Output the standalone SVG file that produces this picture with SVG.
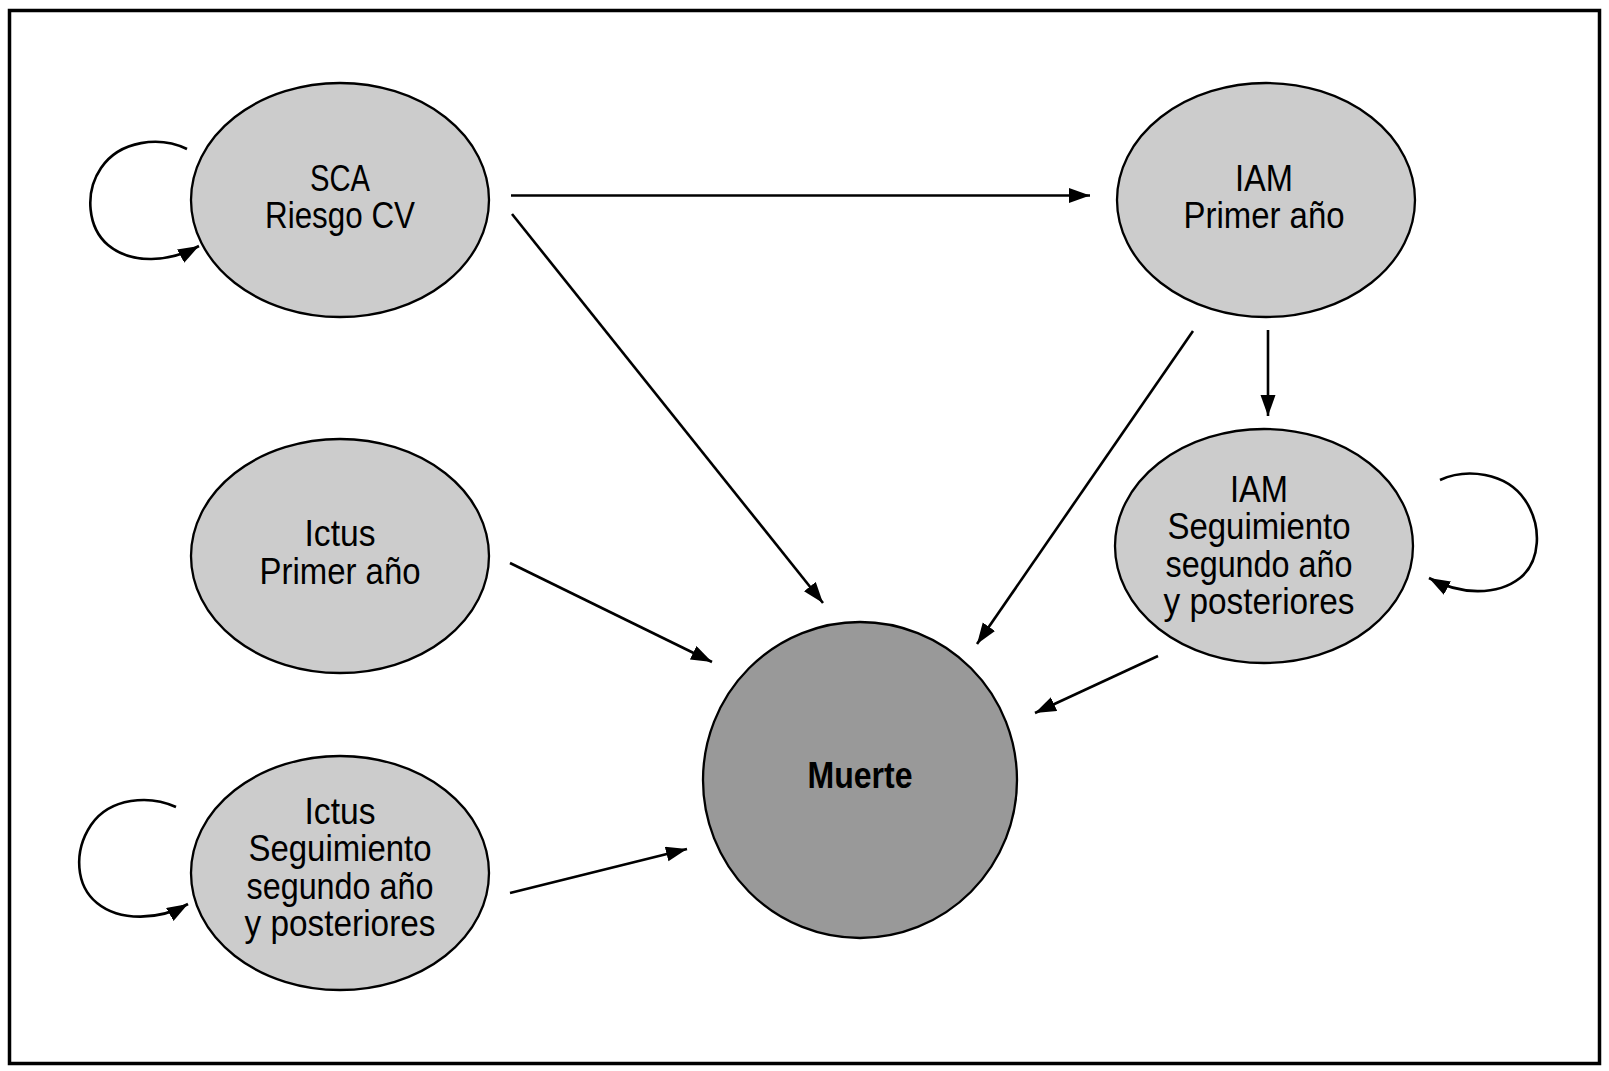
<svg xmlns="http://www.w3.org/2000/svg" width="1609" height="1071" viewBox="0 0 1609 1071">
<style>
.node{fill:#cccccc;stroke:#000;stroke-width:2.3}
.dead{fill:#999999;stroke:#000;stroke-width:2.3}
.lbl{font-family:"Liberation Sans",Arial,sans-serif;font-size:37px;text-anchor:middle;fill:#000}
.bold{font-weight:bold;font-size:36px}
.edge{fill:none;stroke:#000;stroke-width:2.6;marker-end:url(#arr)}
</style>
<defs>
<marker id="arr" markerUnits="userSpaceOnUse" markerWidth="23" markerHeight="16" refX="21" refY="7.5" orient="auto">
<path d="M0,0 L21,7.5 L0,15 z" fill="#000"/>
</marker>
</defs>
<rect x="9.5" y="10.5" width="1590" height="1053" fill="#fff" stroke="#000" stroke-width="3.5"/>
<g id="connectors">
<line class="edge" x1="511" y1="195.5" x2="1090" y2="195.5"/>
<line class="edge" x1="512" y1="214" x2="823" y2="603"/>
<line class="edge" x1="510" y1="563" x2="712" y2="662"/>
<line class="edge" x1="510" y1="893" x2="687" y2="849"/>
<line class="edge" x1="1193" y1="331" x2="977" y2="644"/>
<line class="edge" x1="1268" y1="330" x2="1268" y2="416"/>
<line class="edge" x1="1158" y1="656" x2="1035" y2="713"/>
<path class="edge" d="M187,149 C160,136 120,140 101,168 C84,193 88,228 108,245 C132,265 170,262 199,246"/>
<path class="edge" d="M176,807 C150,795 110,797 91,825 C73,852 76,886 97,903 C120,922 160,920 188,904"/>
<path class="edge" d="M1440,480 C1466,468 1506,472 1525,500 C1543,527 1540,562 1520,578 C1497,596 1460,595 1429,578"/>
</g>
<g id="sca">
<ellipse class="node" cx="340" cy="200" rx="149" ry="117"/>
<text class="lbl" x="340" y="191" textLength="60" lengthAdjust="spacingAndGlyphs">SCA</text>
<text class="lbl" x="340" y="228" textLength="150" lengthAdjust="spacingAndGlyphs">Riesgo CV</text>
</g>
<g id="iam1">
<ellipse class="node" cx="1266" cy="200" rx="149" ry="117"/>
<text class="lbl" x="1264" y="191" textLength="58" lengthAdjust="spacingAndGlyphs">IAM</text>
<text class="lbl" x="1264" y="228" textLength="161" lengthAdjust="spacingAndGlyphs">Primer año</text>
</g>
<g id="ictus1">
<ellipse class="node" cx="340" cy="556" rx="149" ry="117"/>
<text class="lbl" x="340" y="546" textLength="71" lengthAdjust="spacingAndGlyphs">Ictus</text>
<text class="lbl" x="340" y="584" textLength="161" lengthAdjust="spacingAndGlyphs">Primer año</text>
</g>
<g id="iam2">
<ellipse class="node" cx="1264" cy="546" rx="149" ry="117"/>
<text class="lbl" x="1259" y="502" textLength="58" lengthAdjust="spacingAndGlyphs">IAM</text>
<text class="lbl" x="1259" y="539" textLength="183" lengthAdjust="spacingAndGlyphs">Seguimiento</text>
<text class="lbl" x="1259" y="577" textLength="187" lengthAdjust="spacingAndGlyphs">segundo año</text>
<text class="lbl" x="1259" y="614" textLength="191" lengthAdjust="spacingAndGlyphs">y posteriores</text>
</g>
<g id="ictus2">
<ellipse class="node" cx="340" cy="873" rx="149" ry="117"/>
<text class="lbl" x="340" y="824" textLength="71" lengthAdjust="spacingAndGlyphs">Ictus</text>
<text class="lbl" x="340" y="861" textLength="183" lengthAdjust="spacingAndGlyphs">Seguimiento</text>
<text class="lbl" x="340" y="899" textLength="187" lengthAdjust="spacingAndGlyphs">segundo año</text>
<text class="lbl" x="340" y="936" textLength="191" lengthAdjust="spacingAndGlyphs">y posteriores</text>
</g>
<g id="muerte">
<ellipse class="dead" cx="860" cy="780" rx="157" ry="158"/>
<text class="lbl bold" x="860" y="788" textLength="105" lengthAdjust="spacingAndGlyphs">Muerte</text>
</g>
</svg>
